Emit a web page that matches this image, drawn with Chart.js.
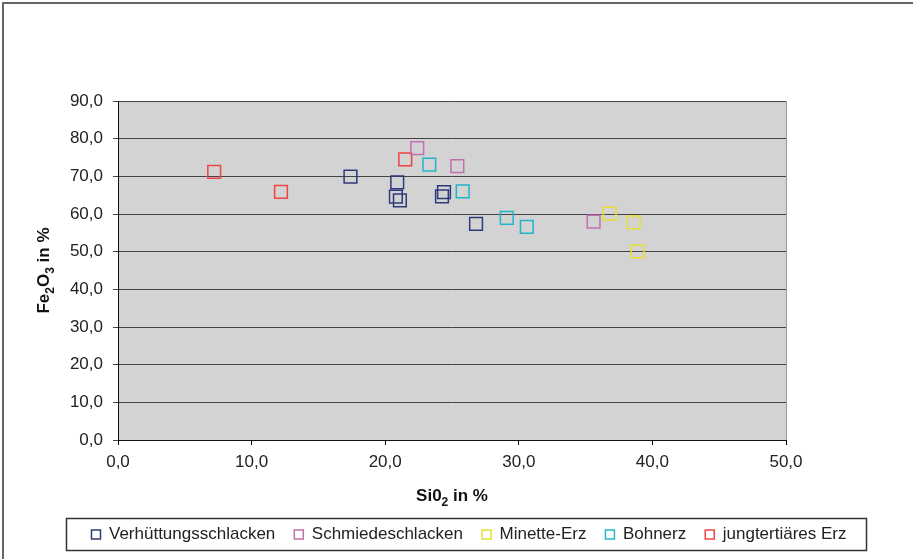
<!DOCTYPE html>
<html>
<head>
<meta charset="utf-8">
<script src="https://cdn.jsdelivr.net/npm/chart.js@4.4.1/dist/chart.umd.min.js"></script>
<style>
  html, body { margin: 0; padding: 0; background: #fff; }
  #wrap { width: 913px; height: 559px; position: relative; }
</style>
</head>
<body>
<div id="wrap"><canvas id="chart" width="913" height="559"></canvas></div>
<script>
// SiO2 (x) / Fe2O3 (y) pairs
let seriesNames = ["Verhüttungsschlacken", "Schmiedeschlacken", "Minette-Erz", "Bohnerz", "jungtertiäres Erz"]
let seriesColors = ["#2F3A7A", "#C46FAE", "#E6E030", "#1FB6CC", "#EE4444"]

let verhuettungX = [17.4, 20.9, 20.8, 21.1, 24.4, 24.25, 26.8]
let verhuettungY = [69.9, 68.4, 64.6, 63.6, 65.8, 64.7, 57.4]
let schmiedeX = [22.4, 25.4, 35.6]
let schmiedeY = [77.5, 72.7, 58.0]
let minetteX = [36.8, 38.6, 38.9]
let minetteY = [60.1, 57.8, 50.1]
let bohnerzX = [23.3, 25.8, 29.1, 30.6]
let bohnerzY = [73.1, 66.0, 59.0, 56.6]
let jungX = [7.2, 12.2, 21.5]
let jungY = [71.2, 65.9, 74.5]

let xTicks = [0, 10, 20, 30, 40, 50]
let yTicks = [0, 10, 20, 30, 40, 50, 60, 70, 80, 90]

// axis titles, split so the index digit can be set lower and smaller
let xTitle = [["Si0", false], ["2", true], [" in %", false]]
let yTitle = [["Fe", false], ["2", true], ["O", false], ["3", true], [" in %", false]]

function pairs(xs, ys) {
    return xs.map((x, i) => ({ x: x, y: ys[i] }))
}

let allX = [verhuettungX, schmiedeX, minetteX, bohnerzX, jungX]
let allY = [verhuettungY, schmiedeY, minetteY, bohnerzY, jungY]

let datasets = seriesNames.map((name, i) => ({
    label: name,
    data: pairs(allX[i], allY[i]),
    pointStyle: 'rect',
    pointRadius: 9,
    pointHoverRadius: 9,
    borderWidth: 1.5,
    borderColor: seriesColors[i],
    backgroundColor: 'rgba(0,0,0,0)',
    showLine: false
}))

let fmt = v => v.toFixed(1).replace('.', ',')
const FONT = "'Liberation Sans', Arial, sans-serif"
const FS = 17

function drawTitle(ctx, parts, cx, cy, rot) {
    let big = "bold " + FS + "px " + FONT
    let small = "bold " + Math.round(FS * 0.68) + "px " + FONT
    let w = 0
    parts.forEach(p => { ctx.font = p[1] ? small : big; w += ctx.measureText(p[0]).width })
    ctx.save()
    ctx.translate(cx, cy)
    ctx.rotate(rot)
    ctx.fillStyle = '#111'
    ctx.textBaseline = 'alphabetic'
    ctx.textAlign = 'left'
    let x = -w / 2
    parts.forEach(p => {
        ctx.font = p[1] ? small : big
        ctx.fillText(p[0], x, FS * 0.35 + (p[1] ? FS * 0.28 : 0))
        x += ctx.measureText(p[0]).width
    })
    ctx.restore()
}

// white page, outer frame, grey plot area, titles and legend frame
let framePlugin = {
    id: 'frame',
    beforeDraw(chart) {
        let ctx = chart.ctx
        let a = chart.chartArea
        ctx.save()
        ctx.fillStyle = '#fff'
        ctx.fillRect(0, 0, chart.width, chart.height)
        ctx.strokeStyle = '#666'
        ctx.lineWidth = 2
        ctx.strokeRect(3, 3, chart.width + 10, chart.height + 10)
        ctx.fillStyle = '#D3D3D3'
        ctx.fillRect(a.left, a.top, a.right - a.left, a.bottom - a.top)
        ctx.strokeStyle = '#999'
        ctx.lineWidth = 1
        ctx.strokeRect(a.left + 0.5, a.top + 0.5, a.right - a.left, a.bottom - a.top)
        ctx.restore()
    },
    afterDraw(chart) {
        let ctx = chart.ctx
        let a = chart.chartArea
        drawTitle(ctx, xTitle, (a.left + a.right) / 2, 495, 0)
        drawTitle(ctx, yTitle, 43, (a.top + a.bottom) / 2, -Math.PI / 2)

        let boxes = chart.legend.legendHitBoxes
        if (!boxes || !boxes.length) return
        let l = Math.min(...boxes.map(b => b.left))
        let r = Math.max(...boxes.map(b => b.left + b.width))
        let t = boxes[0].top
        ctx.save()
        ctx.strokeStyle = '#333'
        ctx.lineWidth = 1.5
        ctx.strokeRect(l - 25, t - 7.5, (r - l) + 45, 32)
        ctx.restore()
    }
}

new Chart(document.getElementById('chart'), {
    type: 'scatter',
    data: { datasets: datasets },
    options: {
        responsive: false,
        animation: false,
        layout: { padding: { left: 28, right: 3, top: 101, bottom: 6 } },
        plugins: {
            tooltip: { enabled: false },
            legend: {
                position: 'bottom',
                labels: {
                    boxWidth: 9,
                    boxHeight: 9,
                    padding: 19,
                    color: '#222',
                    font: { family: FONT, size: FS }
                }
            }
        },
        scales: {
            x: {
                min: 0,
                max: 50,
                afterBuildTicks: s => { s.ticks = xTicks.map(v => ({ value: v })) },
                afterFit: s => { s.height = 67 },
                grid: { drawOnChartArea: false, tickLength: 5, color: '#000' },
                border: { color: '#111', width: 1 },
                ticks: { callback: fmt, color: '#222', padding: 7, maxRotation: 0, font: { family: FONT, size: FS } }
            },
            y: {
                min: 0,
                max: 90,
                afterBuildTicks: s => { s.ticks = yTicks.map(v => ({ value: v })) },
                afterFit: s => { s.width = 90 },
                grid: { tickLength: 5, color: '#444' },
                border: { color: '#111', width: 1 },
                ticks: { callback: fmt, color: '#222', padding: 10, font: { family: FONT, size: FS } }
            },
            yr: {
                type: 'linear',
                axis: 'y',
                position: 'right',
                display: true,
                grid: { display: false },
                border: { display: false },
                ticks: { display: false },
                afterFit: s => { s.width = 124 }
            }
        }
    },
    plugins: [framePlugin]
})
</script>
</body>
</html>
